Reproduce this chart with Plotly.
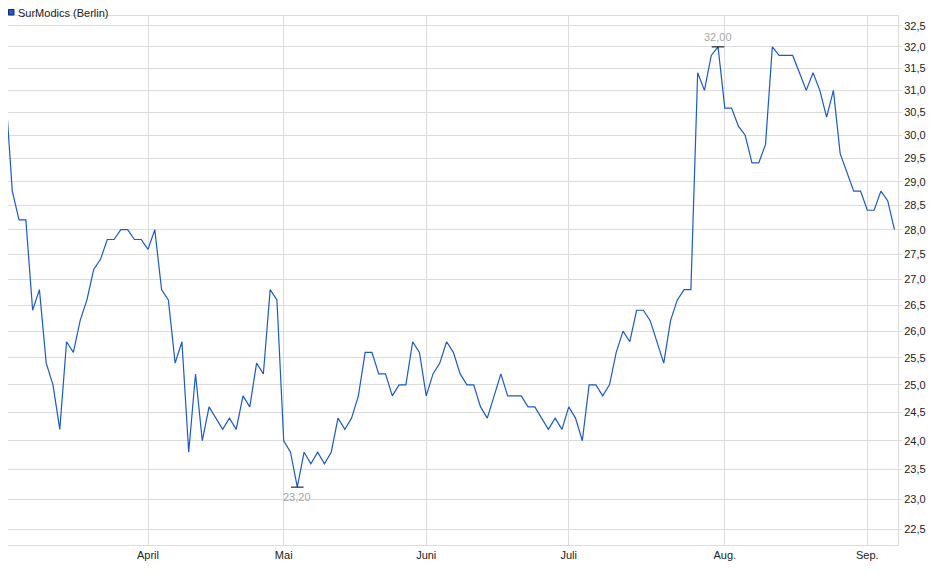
import numpy as np
import pandas as pd
import plotly.graph_objects as go

# Trading days (Börse Berlin) from early March to early September 2025
HOLIDAYS = ["2025-04-18", "2025-04-21", "2025-05-01"]
days = [d.strftime("%Y-%m-%d") for d in pd.bdate_range("2025-03-03", "2025-09-05")
        if d.strftime("%Y-%m-%d") not in HOLIDAYS]

prices = [
    31.0, 28.8, 28.2, 28.2, 26.4, 26.8, 25.4, 25.0, 24.2, 25.8,
    25.6, 26.2, 26.6, 27.2, 27.4, 27.8, 27.8, 28.0, 28.0, 27.8,
    27.8, 27.6, 28.0, 26.8, 26.6, 25.4, 25.8, 23.8, 25.2, 24.0,
    24.6, 24.4, 24.2, 24.4, 24.2, 24.8, 24.6, 25.4, 25.2, 26.8,
    26.6, 24.0, 23.8, 23.2, 23.8, 23.6, 23.8, 23.6, 23.8, 24.4,
    24.2, 24.4, 24.8, 25.6, 25.6, 25.2, 25.2, 24.8, 25.0, 25.0,
    25.8, 25.6, 24.8, 25.2, 25.4, 25.8, 25.6, 25.2, 25.0, 25.0,
    24.6, 24.4, 24.8, 25.2, 24.8, 24.8, 24.8, 24.6, 24.6, 24.4,
    24.2, 24.4, 24.2, 24.6, 24.4, 24.0, 25.0, 25.0, 24.8, 25.0,
    25.6, 26.0, 25.8, 26.4, 26.4, 26.2, 25.8, 25.4, 26.2, 26.6,
    26.8, 26.8, 31.4, 31.0, 31.8, 32.0, 30.6, 30.6, 30.2, 30.0,
    29.4, 29.4, 29.8, 32.0, 31.8, 31.8, 31.8, 31.4, 31.0, 31.4,
    31.0, 30.4, 31.0, 29.6, 29.2, 28.8, 28.8, 28.4, 28.4, 28.8,
    28.6, 28.0,
]

month_ticks = ["2025-04-01", "2025-05-02", "2025-06-02", "2025-07-01", "2025-08-01", "2025-09-01"]
month_labels = ["April", "Mai", "Juni", "Juli", "Aug.", "Sep."]
price_ticks = [22.5, 23.0, 23.5, 24.0, 24.5, 25.0, 25.5, 26.0, 26.5, 27.0,
               27.5, 28.0, 28.5, 29.0, 29.5, 30.0, 30.5, 31.0, 31.5, 32.0, 32.5]

LINE = "#1c5ac4"
GRID = "#dcdcdc"
LABEL_GRAY = "#a6a6a6"
FONT = "Liberation Sans, Arial, sans-serif"

# the page body adds an 8px offset, so the figure is a bit smaller than the window
W, H = 932, 571
M_L, M_R, M_T, M_B = 0, 42, 8, 34
plot_w = W - M_L - M_R
plot_h = H - M_T - M_B


def py(y_px):
    """figure pixel row (from top) -> paper y"""
    return (H - M_B - y_px) / plot_h


fig = go.Figure()
fig.add_trace(go.Scatter(
    x=days, y=prices, mode="lines",
    line=dict(color=LINE, width=1.2),
    name="SurModics (Berlin)", hoverinfo="skip", cliponaxis=False,
))

# high / low markers with labels
arr = np.array(prices)
for idx, pos in ((int(arr.argmax()), 1), (int(arr.argmin()), -1)):
    fig.add_trace(go.Scatter(
        x=[days[idx]], y=[prices[idx]], mode="markers",
        marker=dict(symbol="line-ew", size=9, line=dict(color="black", width=1)),
        hoverinfo="skip",
    ))
    fig.add_annotation(
        x=days[idx], y=np.log10(prices[idx]), text=f"{prices[idx]:.2f}".replace(".", ","),
        showarrow=False, yshift=10 * pos, font=dict(color=LABEL_GRAY, size=11, family=FONT),
    )

# series label top-left
fig.add_shape(
    type="rect", xref="paper", yref="paper",
    x0=0.5 / plot_w, x1=6 / plot_w, y0=py(7), y1=py(1.5),
    fillcolor="#1f5cc8", line=dict(color="#0c2a66", width=1),
)
fig.add_annotation(
    xref="paper", yref="paper", x=8 / plot_w, y=py(4.5),
    xanchor="left", yanchor="middle", text="SurModics (Berlin)", showarrow=False,
    font=dict(color="#222222", size=11, family=FONT),
)

fig.update_layout(
    width=W, height=H,
    margin=dict(l=M_L, r=M_R, t=M_T, b=M_B, autoexpand=False),
    paper_bgcolor="white", plot_bgcolor="white",
    showlegend=False,
    separators=",.",
    font=dict(family=FONT, size=11, color="#222222"),
)
fig.update_xaxes(
    type="category", tickmode="array", tickvals=month_ticks, ticktext=month_labels,
    range=[0.37, len(days) - 0.48],
    showgrid=True, gridcolor=GRID, gridwidth=1,
    showline=True, linecolor=GRID, mirror=True,
    ticks="", zeroline=False,
)
fig.update_yaxes(
    type="log", side="right", tickmode="array", tickvals=price_ticks, tickformat=".1f",
    range=[np.log10(22.24), np.log10(32.73)],
    showgrid=True, gridcolor=GRID, gridwidth=1,
    showline=True, linecolor=GRID, mirror=True,
    ticks="outside", ticklen=3, tickcolor=GRID, zeroline=False,
)

fig.write_html("out.html")
